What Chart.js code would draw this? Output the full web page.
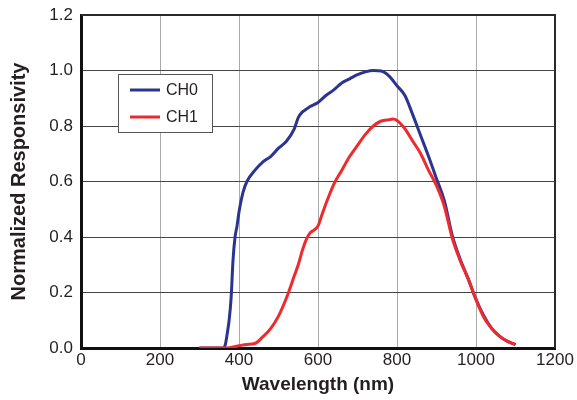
<!DOCTYPE html>
<html>
<head>
<meta charset="utf-8">
<script src="https://cdn.jsdelivr.net/npm/chart.js@4"></script>
<style>
  html, body { margin: 0; padding: 0; background: #fff; }
  #wrap { width: 577px; height: 400px; }
</style>
</head>
<body>
<div id="wrap"><canvas id="chart"></canvas></div>
<script>
'use strict';

// wavelengths (nm) and normalized responsivity
var ch0Wavelength = [300, 320, 340, 360, 365, 370, 375, 380, 385, 390, 395, 400, 410, 420, 440, 460, 480, 500,
  520, 540, 550, 560, 570, 580, 600, 620, 640, 660, 680, 700, 720, 740, 760, 780, 800, 820, 840, 860, 880, 900,
  920, 940, 960, 980, 1000, 1020, 1040, 1060, 1080, 1100];
var ch0Values = [0, 0, 0, 0, 0.01, 0.05, 0.10, 0.18, 0.32, 0.40, 0.44, 0.49, 0.56, 0.60, 0.64, 0.67, 0.69, 0.72,
  0.745, 0.79, 0.83, 0.85, 0.86, 0.87, 0.885, 0.91, 0.93, 0.955, 0.97, 0.985, 0.995, 1.0, 0.998, 0.98, 0.945,
  0.91, 0.84, 0.765, 0.69, 0.61, 0.53, 0.405, 0.32, 0.25, 0.175, 0.115, 0.07, 0.042, 0.024, 0.012];

var ch1Wavelength = [300, 320, 340, 360, 380, 400, 420, 440, 460, 480, 500, 520, 540, 550, 560, 570, 580, 590,
  600, 610, 620, 640, 660, 680, 700, 720, 740, 760, 780, 790, 800, 820, 840, 860, 880, 900, 920, 940, 960, 980,
  1000, 1020, 1040, 1060, 1080, 1100];
var ch1Values = [0, 0, 0, 0, 0.002, 0.008, 0.013, 0.016, 0.04, 0.07, 0.115, 0.18, 0.26, 0.30, 0.35, 0.39, 0.415,
  0.425, 0.44, 0.48, 0.52, 0.59, 0.64, 0.69, 0.73, 0.77, 0.80, 0.818, 0.823, 0.825, 0.82, 0.79, 0.745, 0.70,
  0.64, 0.585, 0.51, 0.395, 0.315, 0.25, 0.175, 0.11, 0.07, 0.042, 0.024, 0.012];

var seriesLabels = ['CH0', 'CH1'];
var seriesColors = ['#2b3591', '#ee2a2e'];

var FONT = '"Liberation Sans", Arial, sans-serif';

function toPoints(xs, ys) {
  return xs.map(function(x, i) { return {x: x, y: ys[i]}; });
}

// legend box and top/right frame, drawn over the plot
var framePlugin = {
  id: 'frame',
  afterDatasetsDraw: function(chart) {
    var ctx = chart.ctx, a = chart.chartArea;
    ctx.save();
    ctx.strokeStyle = '#2a2a2a';
    ctx.lineWidth = 2;
    ctx.beginPath();
    ctx.moveTo(a.left, a.top);
    ctx.lineTo(a.right, a.top);
    ctx.lineTo(a.right, a.bottom);
    ctx.stroke();

    var bx = a.left + 37, by = a.top + 59, bw = 94, bh = 58;
    ctx.fillStyle = '#fff';
    ctx.fillRect(bx, by, bw, bh);
    ctx.strokeStyle = '#555';
    ctx.lineWidth = 1;
    ctx.strokeRect(bx + 0.5, by + 0.5, bw, bh);
    ctx.font = '16px ' + FONT;
    ctx.textBaseline = 'middle';
    seriesLabels.forEach(function(label, i) {
      var y = by + 16 + i * 27;
      ctx.strokeStyle = seriesColors[i];
      ctx.lineWidth = 3;
      ctx.beginPath();
      ctx.moveTo(bx + 12, y);
      ctx.lineTo(bx + 42, y);
      ctx.stroke();
      ctx.fillStyle = '#231f20';
      ctx.fillText(label, bx + 48, y + 1);
    });
    ctx.restore();
  }
};

new Chart(document.getElementById('chart'), {
  type: 'scatter',
  data: {
    datasets: [
      {
        label: seriesLabels[0],
        data: toPoints(ch0Wavelength, ch0Values),
        showLine: true,
        borderColor: seriesColors[0],
        borderWidth: 3,
        pointRadius: 0,
        cubicInterpolationMode: 'monotone',
        order: 1
      },
      {
        label: seriesLabels[1],
        data: toPoints(ch1Wavelength, ch1Values),
        showLine: true,
        borderColor: seriesColors[1],
        borderWidth: 3,
        pointRadius: 0,
        cubicInterpolationMode: 'monotone',
        order: 0
      }
    ]
  },
  options: {
    responsive: true,
    maintainAspectRatio: false,
    animation: false,
    layout: { padding: { top: 15, right: 22, left: 0, bottom: 0 } },
    plugins: { legend: { display: false }, tooltip: { enabled: false } },
    scales: {
      x: {
        type: 'linear',
        min: 0,
        max: 1200,
        ticks: {
          stepSize: 200,
          color: '#231f20',
          padding: 2,
          font: { family: FONT, size: 17 },
          callback: function(v) { return String(v); }
        },
        grid: { color: '#aaa', lineWidth: 1, drawTicks: false },
        border: { display: true, color: '#111', width: 3 },
        title: {
          display: true,
          text: 'Wavelength (nm)',
          color: '#231f20',
          padding: { top: 0, bottom: 4 },
          font: { family: FONT, size: 19, weight: 'bold' }
        },
        afterFit: function(scale) { scale.height = 52; }
      },
      y: {
        min: 0,
        max: 1.2,
        ticks: {
          stepSize: 0.2,
          color: '#231f20',
          padding: 8,
          font: { family: FONT, size: 17 },
          callback: function(v) { return v.toFixed(1); }
        },
        grid: { color: '#444', lineWidth: 1, drawTicks: false },
        border: { display: true, color: '#111', width: 3 },
        title: {
          display: true,
          text: 'Normalized Responsivity',
          color: '#231f20',
          padding: { top: 7, bottom: 0 },
          font: { family: FONT, size: 20, weight: 'bold' }
        },
        afterFit: function(scale) {
          scale.width = 81;
          scale.paddingTop = 0;
          scale.paddingBottom = 0;
        }
      }
    }
  },
  plugins: [framePlugin]
});
</script>
</body>
</html>
